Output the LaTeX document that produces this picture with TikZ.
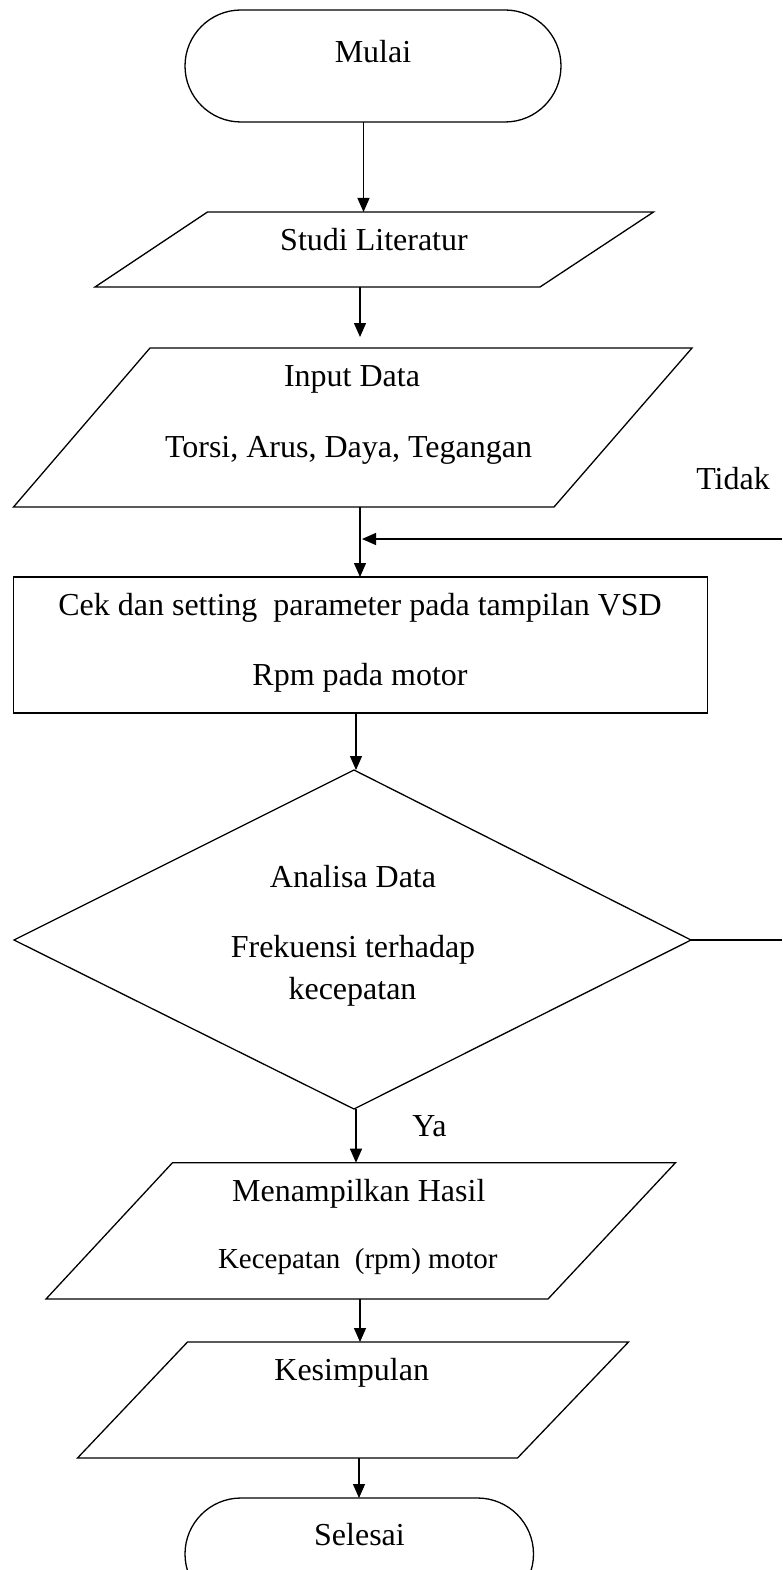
\documentclass[tikz,border=0pt]{standalone}
\usepackage{fontspec}
\setmainfont{Liberation Serif}
\usetikzlibrary{arrows.meta}
\begin{document}
\begin{tikzpicture}[x=1pt,y=-1pt, line width=1.3pt,
  txt/.style={inner sep=0pt, anchor=base, font=\fontsize{32}{38}\selectfont},
  smalltxt/.style={inner sep=0pt, anchor=base, font=\fontsize{29}{35}\selectfont},
  arr/.style={-{Triangle[width=12pt,length=14pt]}},
  shp/.style={draw, line join=miter}]
\useasboundingbox (0,0) rectangle (782,1570);
\clip (0,0) rectangle (782,1570);
\fill[white] (0,0) rectangle (782,1570);

% shapes
\draw[shp, rounded corners=56pt] (185,10) rectangle (561,122);
\draw[shp] (207.5,212) -- (653.5,212) -- (540,287) -- (95,287) -- cycle;
\draw[shp] (150,348) -- (692,348) -- (554,507) -- (13.5,507) -- cycle;
\draw[shp] (13.5,577) rectangle (707.5,713);
\draw[shp] (354,770) -- (691,940) -- (354,1109) -- (14,940) -- cycle;
\draw[shp] (172.5,1162.7) -- (675.5,1162.7) -- (548,1299) -- (46,1299) -- cycle;
\draw[shp] (187.5,1342) -- (628.5,1342) -- (517.5,1458) -- (77.5,1458) -- cycle;
\draw[shp, rounded corners=56pt] (185,1498) rectangle (533.5,1610);

% connection points
\coordinate (mulaiB) at (363.5,122);
\coordinate (studiT) at (363.5,212);
\coordinate (studiB) at (360,287);
\coordinate (inputT) at (360,337);
\coordinate (inputB) at (360,507);
\coordinate (cekT) at (360,577);
\coordinate (cekB) at (356,713);
\coordinate (diaT) at (356,770);
\coordinate (diaR) at (691,940);
\coordinate (edgeR) at (782,940);
\coordinate (edgeT) at (782,539);
\coordinate (loopIn) at (362,539);
\coordinate (diaB) at (356,1109);
\coordinate (hasilT) at (356,1162.7);
\coordinate (hasilB) at (360,1299);
\coordinate (kesT) at (360,1342);
\coordinate (kesB) at (359,1458);
\coordinate (selT) at (359,1498);

% texts
\node[txt] (mulai) at (373,62.7) {Mulai};
\node[txt] (studi) at (374,250.7) {Studi Literatur};
\node[txt] (input) at (352,386) {Input Data};
\node[txt] (torsi) at (348.5,457.3) {Torsi, Arus, Daya, Tegangan};
\node[txt] (tidak) at (733,489.3) {Tidak};
\node[txt] (cek) at (360,615) {Cek dan setting\ \ parameter pada tampilan VSD};
\node[txt] (rpm) at (360,685) {Rpm pada motor};
\node[txt] (analisa) at (353,887.7) {Analisa Data};
\node[txt] (frek) at (353,957.3) {Frekuensi terhadap};
\node[txt] (kec) at (352.5,999.3) {kecepatan};
\node[txt] (ya) at (429.5,1136.7) {Ya};
\node[txt] (hasil) at (358.75,1201.7) {Menampilkan Hasil};
\node[smalltxt] (kecrpm) at (357.75,1268.3) {Kecepatan\ \ (rpm) motor};
\node[txt] (kesim) at (351.75,1380) {Kesimpulan};
\node[txt] (selesai) at (359.5,1545) {Selesai};

% connectors
\draw[arr] (mulaiB) -- (studiT);
\draw[arr] (studiB) -- (inputT);
\draw[arr] (inputB) -- (cekT);
\draw[arr] (edgeT) -- (loopIn);
\draw[arr] (cekB) -- (diaT);
\draw (diaR) -- (edgeR);
\draw[arr] (diaB) -- (hasilT);
\draw[arr] (hasilB) -- (kesT);
\draw[arr] (kesB) -- (selT);
\end{tikzpicture}
\end{document}
